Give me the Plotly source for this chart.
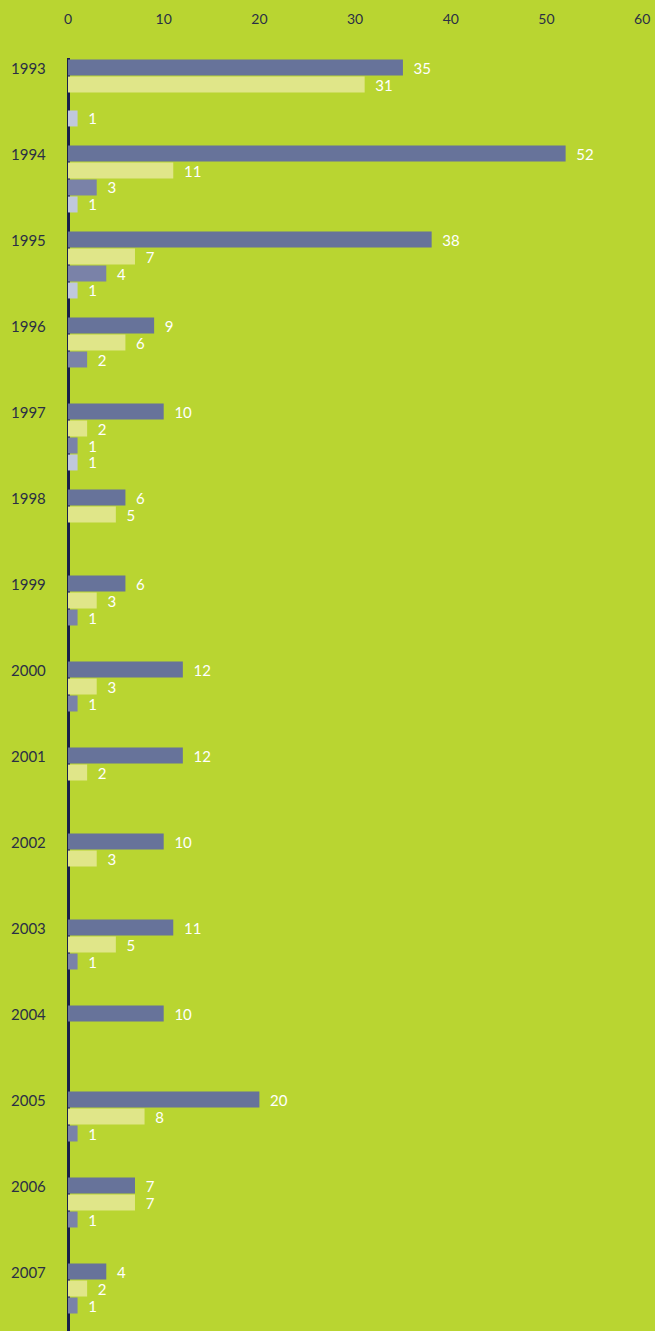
import plotly.graph_objects as go

years = ["1993", "1994", "1995", "1996", "1997", "1998", "1999", "2000",
         "2001", "2002", "2003", "2004", "2005", "2006", "2007"]
series_a = [35, 52, 38, 9, 10, 6, 6, 12, 12, 10, 11, 10, 20, 7, 4]
series_b = [31, 11, 7, 6, 2, 5, 3, 3, 2, 3, 5, None, 8, 7, 2]
series_c = [None, 3, 4, 2, 1, None, 1, 1, None, None, 1, None, 1, 1, 1]
series_d = [1, 1, 1, None, 1, None, None, None, None, None, None, None, None, None, None]
x_ticks = [0, 10, 20, 30, 40, 50, 60]

colors = ["#67739a", "#e0e689", "#7a82a8", "#c0c8dc"]
BG = "#b9d531"
FONT = "Lato"

fig = go.Figure()
for vals, col in zip([series_a, series_b, series_c, series_d], colors):
    fig.add_trace(go.Bar(
        y=years, x=vals, orientation="h",
        marker=dict(color=col, line=dict(width=0)),
        text=[("  " + str(v)) if v is not None else "" for v in vals],
        textposition="outside", cliponaxis=False, constraintext="none",
        textfont=dict(color="white", size=15, family=FONT),
        hoverinfo="x+y", showlegend=False,
    ))

for i, y in enumerate(years):
    fig.add_annotation(x=-0.1005, xref="paper", y=i, yref="y", yshift=25,
                       text=y, showarrow=False, xanchor="left",
                       font=dict(size=15, color="#2a2f45", family=FONT))

fig.update_layout(
    width=655, height=1331,
    margin=dict(l=68, r=0, t=58, b=0),
    paper_bgcolor=BG, plot_bgcolor=BG,
    barmode="group", bargap=0.21, bargroupgap=0.06,
    xaxis=dict(side="top", range=[0, 61.34], tickvals=x_ticks,
               showgrid=False, zeroline=True, zerolinecolor="#1a1f4a",
               zerolinewidth=3, showline=False, ticks="",
               ticklabelstandoff=30,
               tickfont=dict(size=14, color="#2a2f45", family=FONT)),
    yaxis=dict(type="category", categoryorder="array", categoryarray=years,
               range=[14.395, -0.407], showticklabels=False,
               showgrid=False, zeroline=False, showline=False, ticks=""),
)

fig.write_html("out.html", config={"displayModeBar": False},
               post_script="document.body.style.margin='0';")
